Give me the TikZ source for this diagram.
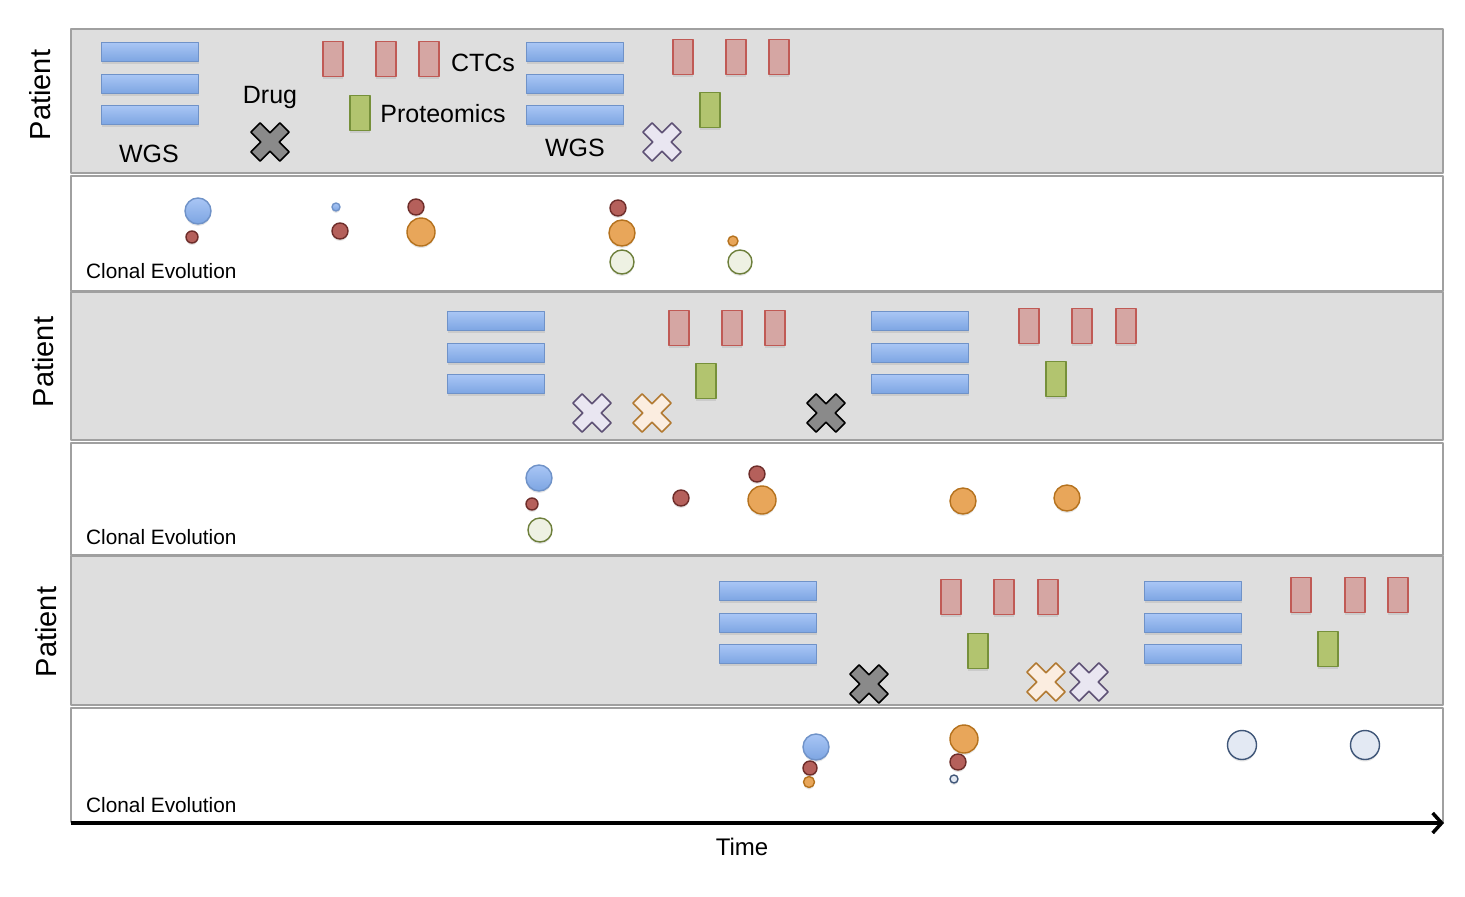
\documentclass[tikz,border=0pt]{standalone}
\usepackage{fontspec}
\setmainfont{Liberation Sans}
\usetikzlibrary{arrows.meta,shadows}
\definecolor{panelgray}{HTML}{DEDEDE}
\definecolor{panelline}{HTML}{A0A0A0}
\definecolor{wgstop}{HTML}{A9C6F5}
\definecolor{wgsbot}{HTML}{7DA5E2}
\definecolor{wgsline}{HTML}{6F92C8}
\definecolor{ctcfill}{HTML}{D5A6A3}
\definecolor{ctcline}{HTML}{C05A55}
\definecolor{protfill}{HTML}{B2C46F}
\definecolor{protline}{HTML}{76903A}
\definecolor{redfill}{HTML}{B5605B}
\definecolor{redline}{HTML}{6E2D2A}
\definecolor{orangefill}{HTML}{E8A65A}
\definecolor{orangeline}{HTML}{B5721E}
\definecolor{greenfill}{HTML}{EEF1E3}
\definecolor{greenline}{HTML}{6D7F3B}
\definecolor{palefill}{HTML}{E3E9F3}
\definecolor{paleline}{HTML}{3F5678}
\definecolor{lilacfill}{HTML}{E9E6F1}
\definecolor{lilacline}{HTML}{5E5175}
\definecolor{peachfill}{HTML}{FBEDE0}
\definecolor{peachline}{HTML}{B27A32}
\definecolor{drugfill}{HTML}{8A8A8A}

\tikzset{
  drug/.pic={
    \path[pic actions, rotate=45]
      (-20.5,-6.5) -- (-6.5,-6.5) -- (-6.5,-20.5) -- (6.5,-20.5) -- (6.5,-6.5)
      -- (20.5,-6.5) -- (20.5,6.5) -- (6.5,6.5) -- (6.5,20.5) -- (-6.5,20.5)
      -- (-6.5,6.5) -- (-20.5,6.5) -- cycle;
  }
}

\begin{document}
\begin{tikzpicture}[x=1pt,y=-1pt,line join=round]
    \tikzstyle{soft}=[drop shadow={shadow xshift=0pt,shadow yshift=-2pt,opacity=0.2}]
    \tikzstyle{panel}=[draw=panelline, line width=2.5pt]
    \tikzstyle{wgs bar}=[rectangle, minimum width=97pt, minimum height=19pt, inner sep=0pt,
                         top color=wgstop, bottom color=wgsbot, draw=wgsline, line width=1.4pt, soft]
    \tikzstyle{ctc box}=[rectangle, minimum width=20pt, minimum height=35pt, inner sep=0pt,
                         fill=ctcfill, draw=ctcline, line width=1.4pt, soft]
    \tikzstyle{prot box}=[ctc box, fill=protfill, draw=protline]
    \tikzstyle{clone}=[circle, inner sep=0pt, line width=1.4pt, soft]
    \tikzstyle{blue clone}=[clone, top color=wgstop, bottom color=wgsbot, draw=wgsline]
    \tikzstyle{red clone}=[clone, fill=redfill, draw=redline]
    \tikzstyle{orange clone}=[clone, fill=orangefill, draw=orangeline]
    \tikzstyle{green clone}=[clone, fill=greenfill, draw=greenline]
    \tikzstyle{pale clone}=[clone, fill=palefill, draw=paleline]
    \tikzstyle{dark drug}=[fill=drugfill, draw=black, line width=1.6pt]
    \tikzstyle{lilac drug}=[fill=lilacfill, draw=lilacline, line width=1.6pt]
    \tikzstyle{peach drug}=[fill=peachfill, draw=peachline, line width=1.6pt]
    \tikzstyle{annot}=[inner sep=0pt, font=\fontsize{25}{30}\selectfont]
    \tikzstyle{patient}=[annot, rotate=90, font=\fontsize{29}{34}\selectfont]
    \tikzstyle{clonal}=[annot, anchor=west, font=\fontsize{20.8}{25}\selectfont]

    \useasboundingbox (0,0) rectangle (1465,897);

    % Draw the patient and clonal evolution panels
    \foreach \top / \bot / \col in {29/173/panelgray, 176/291/white, 292/440/panelgray,
                                    443/555/white, 556/705/panelgray, 708/822/white}
        \draw[panel, fill=\col] (71,\top) rectangle (1443,\bot);

    % Label the rows
    \node[patient] (P-1) at (40,95) {Patient};
    \node[patient] (P-2) at (43,362) {Patient};
    \node[patient] (P-3) at (46,632) {Patient};
    \foreach \name / \y in {1/271, 2/537, 3/805}
        \node[clonal] (C-\name) at (86,\y) {Clonal Evolution};

    % Draw the WGS stacks
    \foreach \name / \x / \y in {a/150/52, b/575/52, c/496/321, d/920/321, e/768/591, f/1193/591}
        \foreach \i / \dy in {1/0, 2/32, 3/63}
            \node[wgs bar] (W-\name-\i) at (\x,\y+\dy) {};

    % Draw the CTC samples
    \foreach \name / \xa / \xb / \xc / \y in {a/333/386/429/59, b/683/736/779/57,
                                             c/679/732/775/328, d/1029/1082/1126/326,
                                             e/951/1004/1048/597, f/1301/1355/1398/595}
        \foreach \x [count=\i] in {\xa,\xb,\xc}
            \node[ctc box] (T-\name-\i) at (\x,\y) {};

    % Draw the proteomics samples
    \foreach \name / \x / \y in {a/360/113, b/710/110, c/706/381, d/1056/379, e/978/651, f/1328/649}
        \node[prot box] (R-\name) at (\x,\y) {};

    % Draw the drugs
    \pic[dark drug] at (270,142) {drug};
    \pic[lilac drug] at (662,142) {drug};
    \pic[lilac drug] at (592,413) {drug};
    \pic[peach drug] at (652,413) {drug};
    \pic[dark drug] at (826,413) {drug};
    \pic[dark drug] at (869,684) {drug};
    \pic[peach drug] at (1046,682) {drug};
    \pic[lilac drug] at (1089,682) {drug};

    % Annotate the first patient
    \node[annot] (wgs-a) at (149,154) {WGS};
    \node[annot] (wgs-b) at (575,148) {WGS};
    \node[annot] (drug) at (270,97) {Drug};
    \node[annot] (ctcs) at (483,63) {CTCs};
    \node[annot] (prot) at (443,114) {Proteomics};

    % Draw the clones of the first patient
    \node[blue clone, minimum size=26pt] (K-1) at (198,211) {};
    \node[red clone, minimum size=12pt] (K-2) at (192,237) {};
    \node[blue clone, minimum size=8pt] (K-3) at (336,207) {};
    \node[red clone, minimum size=16pt] (K-4) at (340,231) {};
    \node[red clone, minimum size=16pt] (K-5) at (416,207) {};
    \node[orange clone, minimum size=28pt] (K-6) at (421,232) {};
    \node[red clone, minimum size=16pt] (K-7) at (618,208) {};
    \node[orange clone, minimum size=26pt] (K-8) at (622,233) {};
    \node[green clone, minimum size=24pt] (K-9) at (622,262) {};
    \node[orange clone, minimum size=10pt] (K-10) at (733,241) {};
    \node[green clone, minimum size=24pt] (K-11) at (740,262) {};

    % Draw the clones of the second patient
    \node[blue clone, minimum size=26pt] (L-1) at (539,478) {};
    \node[red clone, minimum size=12pt] (L-2) at (532,504) {};
    \node[green clone, minimum size=24pt] (L-3) at (540,530) {};
    \node[red clone, minimum size=16pt] (L-4) at (681,498) {};
    \node[red clone, minimum size=16pt] (L-5) at (757,474) {};
    \node[orange clone, minimum size=28pt] (L-6) at (762,500) {};
    \node[orange clone, minimum size=26pt] (L-7) at (963,501) {};
    \node[orange clone, minimum size=26pt] (L-8) at (1067,498) {};

    % Draw the clones of the third patient
    \node[blue clone, minimum size=26pt] (M-1) at (816,747) {};
    \node[red clone, minimum size=14pt] (M-2) at (810,768) {};
    \node[orange clone, minimum size=11pt] (M-3) at (809,782) {};
    \node[orange clone, minimum size=28pt] (M-4) at (964,739) {};
    \node[red clone, minimum size=16pt] (M-5) at (958,762) {};
    \node[pale clone, minimum size=8pt] (M-6) at (954,779) {};
    \node[pale clone, minimum size=29pt] (M-7) at (1242,745) {};
    \node[pale clone, minimum size=29pt] (M-8) at (1365,745) {};

    % Draw the time axis
    \coordinate (t0) at (71,823);
    \coordinate (t1) at (1444,823);
    \draw[line width=3.5pt, -{Straight Barb[length=9pt,width=20pt,line width=3.5pt]}] (t0) -- (t1);
    \node[annot, font=\fontsize{24}{29}\selectfont] (time) at (742,847) {Time};
\end{tikzpicture}
\end{document}
